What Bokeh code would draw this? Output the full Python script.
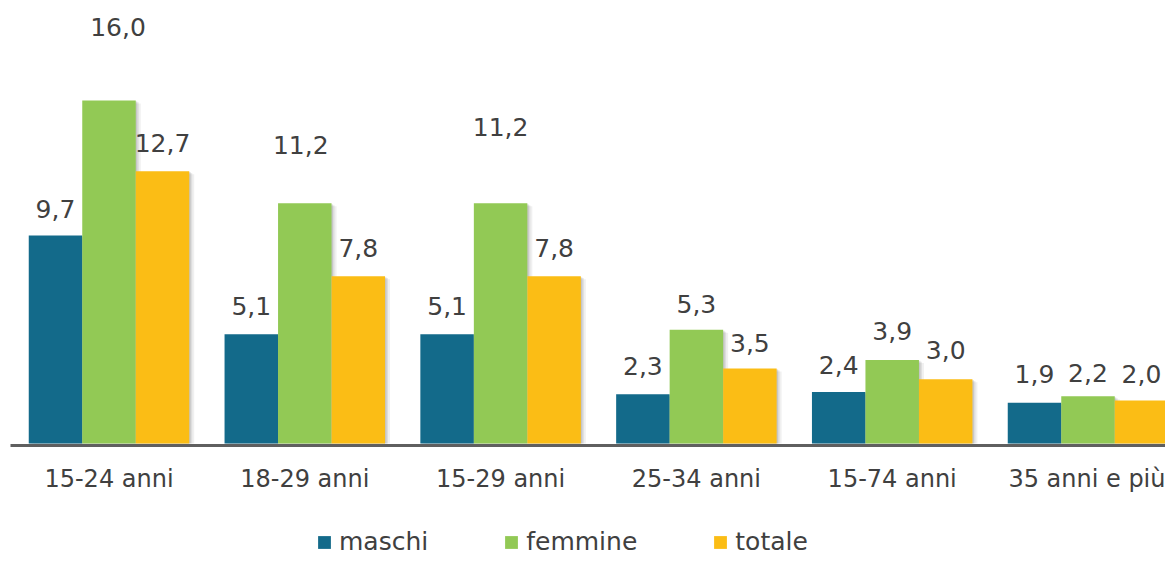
from bokeh.plotting import figure
from bokeh.layouts import column
from bokeh.models import ColumnDataSource, FixedTicker, Legend, LegendItem, Range1d
from bokeh.core.properties import value
from bokeh.embed import file_html
from bokeh.resources import INLINE

# ---- data ----
categories = ["15-24 anni", "18-29 anni", "15-29 anni", "25-34 anni", "15-74 anni", "35 anni e più"]
maschi = [9.7, 5.1, 5.1, 2.3, 2.4, 1.9]
femmine = [16.0, 11.2, 11.2, 5.3, 3.9, 2.2]
totale = [12.7, 7.8, 7.8, 3.5, 3.0, 2.0]
series_names = ["maschi", "femmine", "totale"]
series_values = [maschi, femmine, totale]

# ---- style ----
colors = ["#136A8A", "#92C955", "#FBBD15"]
FONT = "DejaVu Sans"
TEXT_COLOR = "#404040"
# manual label nudges (px) as in the original, where labels were dragged
label_dy = [[27, 28, 28, 28, 27, 29],
            [73, 58, 76, 26, 29, 23],
            [28, 28, 28, 25, 29, 27]]
label_dx = [[0, 0, 0, 0, 0, 0],
            [9, -4, 0, 0, 0, 0],
            [0, 0, 0, 0, 0, 0]]

PX_X = 195.8    # px per category
PX_Y = 21.44    # px per unit
bar_w = 53.5 / PX_X
offsets = [-bar_w, 0.0, bar_w]

W = 1165
H1, H2 = 515, 41
LEFT = 10
frame_h = 445
x_start = (LEFT - 108.5) / PX_X
x_end = x_start + (W - LEFT) / PX_X
y_start = -2 / PX_Y
y_end = y_start + frame_h / PX_Y

p = figure(width=W, height=H1, output_backend="svg", toolbar_location=None,
           x_range=Range1d(x_start, x_end), y_range=Range1d(y_start, y_end),
           y_axis_location=None, min_border_left=LEFT, min_border_right=0,
           min_border_top=0, min_border_bottom=H1 - frame_h)
p.outline_line_color = None
p.xgrid.visible = False
p.ygrid.visible = False
p.background_fill_color = "white"
p.border_fill_color = "white"

for si, (name, vals) in enumerate(zip(series_names, series_values)):
    xs = [i + offsets[si] for i in range(len(categories))]
    # soft shadow
    for k, a in ((5, 0.06), (3, 0.08), (1.5, 0.10)):
        sh = ColumnDataSource(dict(x=[x + k / PX_X for x in xs],
                                   top=[v - k * 0.6 / PX_Y for v in vals]))
        p.vbar(x="x", top="top", bottom=0, width=bar_w, source=sh,
               fill_color="black", fill_alpha=a, line_color=None)
for si, (name, vals) in enumerate(zip(series_names, series_values)):
    xs = [i + offsets[si] for i in range(len(categories))]
    src = ColumnDataSource(dict(x=xs, top=vals))
    p.vbar(x="x", top="top", bottom=0, width=bar_w, source=src,
           fill_color=colors[si], line_color=None)

for si, (name, vals) in enumerate(zip(series_names, series_values)):
    xs = [i + offsets[si] for i in range(len(categories))]
    lsrc = ColumnDataSource(dict(
        x=xs, y=vals,
        t=[f"{v:.1f}".replace(".", ",") for v in vals],
        dx=label_dx[si], dy=[-d for d in label_dy[si]]))
    p.text(x="x", y="y", text="t", x_offset="dx", y_offset="dy", source=lsrc,
           text_align="center", text_baseline="middle",
           text_font=value(FONT), text_font_size="25px", text_color=TEXT_COLOR)

ax = p.xaxis[0]
ax.ticker = FixedTicker(ticks=list(range(len(categories))))
ax.major_label_overrides = {i: c for i, c in enumerate(categories)}
ax.axis_line_width = 3
ax.axis_line_color = "#5f5f5f"
ax.major_tick_line_color = None
ax.minor_tick_line_color = None
ax.major_label_standoff = 13
ax.major_label_text_font = FONT
ax.major_label_text_font_size = "24px"
ax.major_label_text_color = TEXT_COLOR

# ---- legend strip (swatches reuse the series colours) ----
p2 = figure(width=W, height=H2, output_backend="svg", toolbar_location=None,
            x_range=Range1d(0, W), y_range=Range1d(0, H2),
            x_axis_location=None, y_axis_location=None, min_border=0)
p2.outline_line_color = None
p2.xgrid.visible = False
p2.ygrid.visible = False
items = []
for name, c in zip(series_names, colors):
    # glyph kept far off-screen; it only provides the legend swatch
    r = p2.vbar(x=[-5000], top=[-4000], bottom=-5000, width=1,
                fill_color=c, line_color=None)
    items.append(LegendItem(label=name, renderers=[r]))
legend = Legend(items=items, orientation="horizontal", location=(306, 0),
                glyph_width=16, glyph_height=16, label_standoff=7, spacing=75,
                padding=0, margin=0, border_line_color=None, background_fill_alpha=0,
                label_text_font=FONT, label_text_font_size="25px",
                label_text_color=TEXT_COLOR)
p2.add_layout(legend, "center")

layout = column(p, p2, spacing=0)
open("out.html", "w").write(file_html(layout, INLINE))
